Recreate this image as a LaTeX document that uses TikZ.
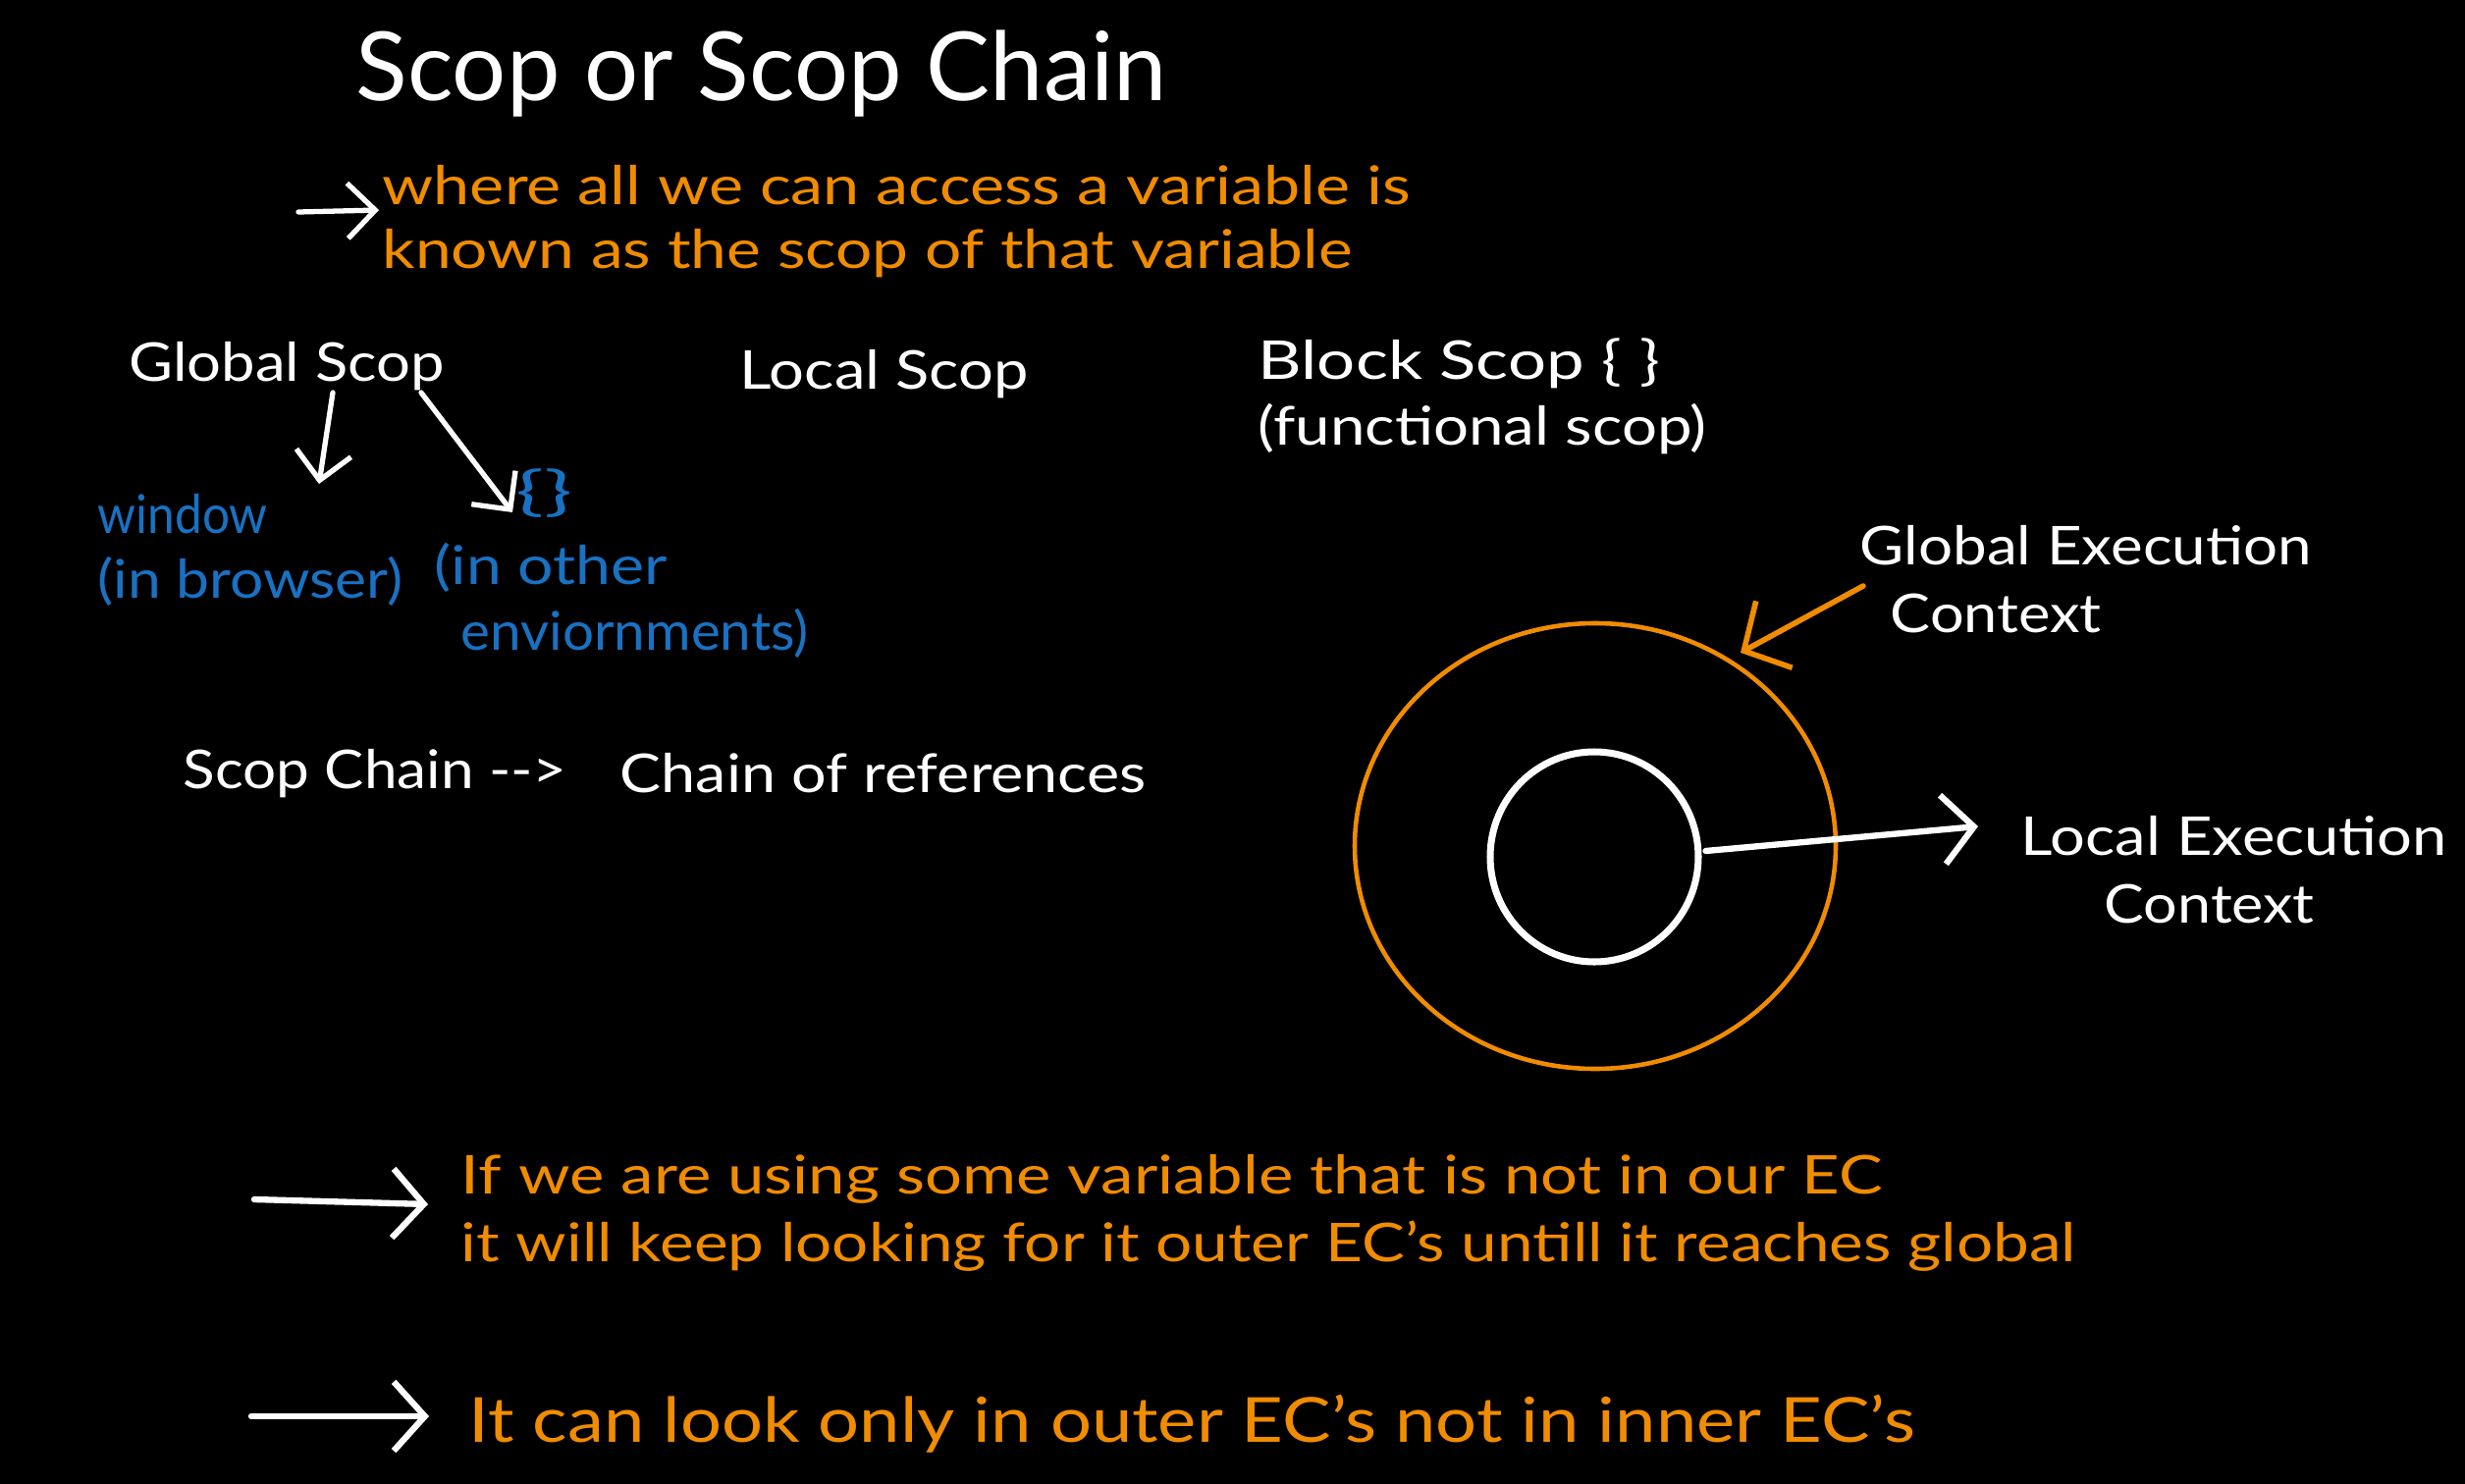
\documentclass[tikz,border=0pt]{standalone}
\usepackage{fontspec}
\setmainfont{Lato}
\usetikzlibrary{arrows.meta,shapes.geometric}
\newlength\pxu
\setlength\pxu{0.01cm}
\newcommand\fw[2]{\resizebox{#1\pxu}{\height}{#2}}
\newcommand\fwall[2]{\resizebox{#1\pxu}{!}{#2}}
\definecolor{exorange}{HTML}{F08C00}
\definecolor{exblue}{HTML}{1971C2}
\begin{document}
\begin{tikzpicture}[x=0.01cm,y=-0.01cm,
  txt/.style={anchor=west,inner sep=0pt,text=white,font=\fontsize{15.5pt}{18pt}\selectfont},
  otxt/.style={txt,text=exorange},
  btxt/.style={txt,text=exblue},
  warrow/.style={draw=white,line width=1.5pt,line cap=round,-{Straight Barb[length=8pt,width=16pt,line width=1.5pt]}},
  bigwarrow/.style={draw=white,line width=1.8pt,line cap=round,-{Straight Barb[length=9pt,width=20pt,line width=1.8pt]}},
  oarrow/.style={draw=exorange,line width=1.6pt,line cap=round,-{Straight Barb[length=10pt,width=22pt,line width=1.6pt]}}
]
\fill[black] (0,0) rectangle (2511,1512);
\useasboundingbox (0,0) rectangle (2511,1512);

% title
\node[txt] (title) at (362,75) {\fwall{826}{Scop or Scop Chain}};

% definition
\node[otxt] (where1) at (389,189) {\fw{1047}{where all we can access a variable is}};
\node[otxt] (where2) at (389,258) {\fw{988}{known as the scop of that variable}};
\coordinate (a1s) at (304,216);
\coordinate (a1e) at (386,214);
\draw[warrow] (a1s) -- (a1e);

% scopes
\node[txt] (gscop) at (131,373) {\fw{321}{Global Scop}};
\node[txt] (lscop) at (753,381) {\fw{294}{Local Scop}};
\node[txt] (bscop) at (1281,370) {\fw{409}{Block Scop \{ \}}};
\node[txt] (fscop) at (1281,437) {\fw{457}{(functional scop)}};

\node[btxt] (window) at (99,524) {\fw{173}{window}};
\node[btxt] (inbrowser) at (99,592) {\fw{311}{(in browser)}};
\node[btxt] (braces) at (525,503) {\fw{58}{\{\}}};
\node[btxt] (inother) at (442,578) {\fw{237}{(in other}};
\node[btxt] (envs) at (469,645) {\fw{354}{enviornments)}};

\coordinate (g1s) at (339,400);
\coordinate (g1e) at (325,493);
\coordinate (g2s) at (429,400);
\coordinate (g2e) at (522,522);
\draw[warrow] (g1s) -- (g1e);
\draw[warrow] (g2s) -- (g2e);

% scope chain
\node[txt] (scchain) at (186,788) {\fw{391}{Scop Chain -{}->}};
\node[txt] (chainref) at (631,788) {\fw{536}{Chain of references}};

% execution contexts
\node[ellipse,draw=exorange,line width=1.3pt,minimum width=490\pxu,minimum height=454\pxu,inner sep=0pt] (gecirc) at (1625,862) {};
\node[ellipse,draw=white,line width=2pt,minimum width=212\pxu,minimum height=214\pxu,inner sep=0pt] (lecirc) at (1624,873) {};

\node[txt] (gec) at (1894,556) {\fw{460}{Global Execution}};
\node[txt] (gecctx) at (1925,625) {\fw{215}{Context}};
\node[txt] (lec) at (2058,852) {\fw{434}{Local Execution}};
\node[txt] (lecctx) at (2143,921) {\fw{214}{Context}};

\coordinate (oas) at (1898,597);
\coordinate (oae) at (1773,665);
\draw[oarrow] (oas) -- (oae);
\coordinate (lae) at (2015,842);
\draw[bigwarrow] (lecirc.east) ++(4,-6) -- (lae);

% bottom notes
\node[otxt] (if1) at (469,1201) {\fw{1448}{If we are using some variable that is not in our EC}};
\node[otxt] (if2) at (469,1270) {\fw{1645}{it will keep looking for it outer EC's untill it reaches global}};
\node[otxt,font=\fontsize{18pt}{21pt}\selectfont] (itcan) at (477,1451) {\fw{1473}{It can look only in outer EC's not in inner EC's}};

\coordinate (b1s) at (259,1222);
\coordinate (b1e) at (436,1227);
\coordinate (b2s) at (256,1443);
\coordinate (b2e) at (437,1443);
\draw[bigwarrow] (b1s) -- (b1e);
\draw[bigwarrow] (b2s) -- (b2e);
\end{tikzpicture}
\end{document}
